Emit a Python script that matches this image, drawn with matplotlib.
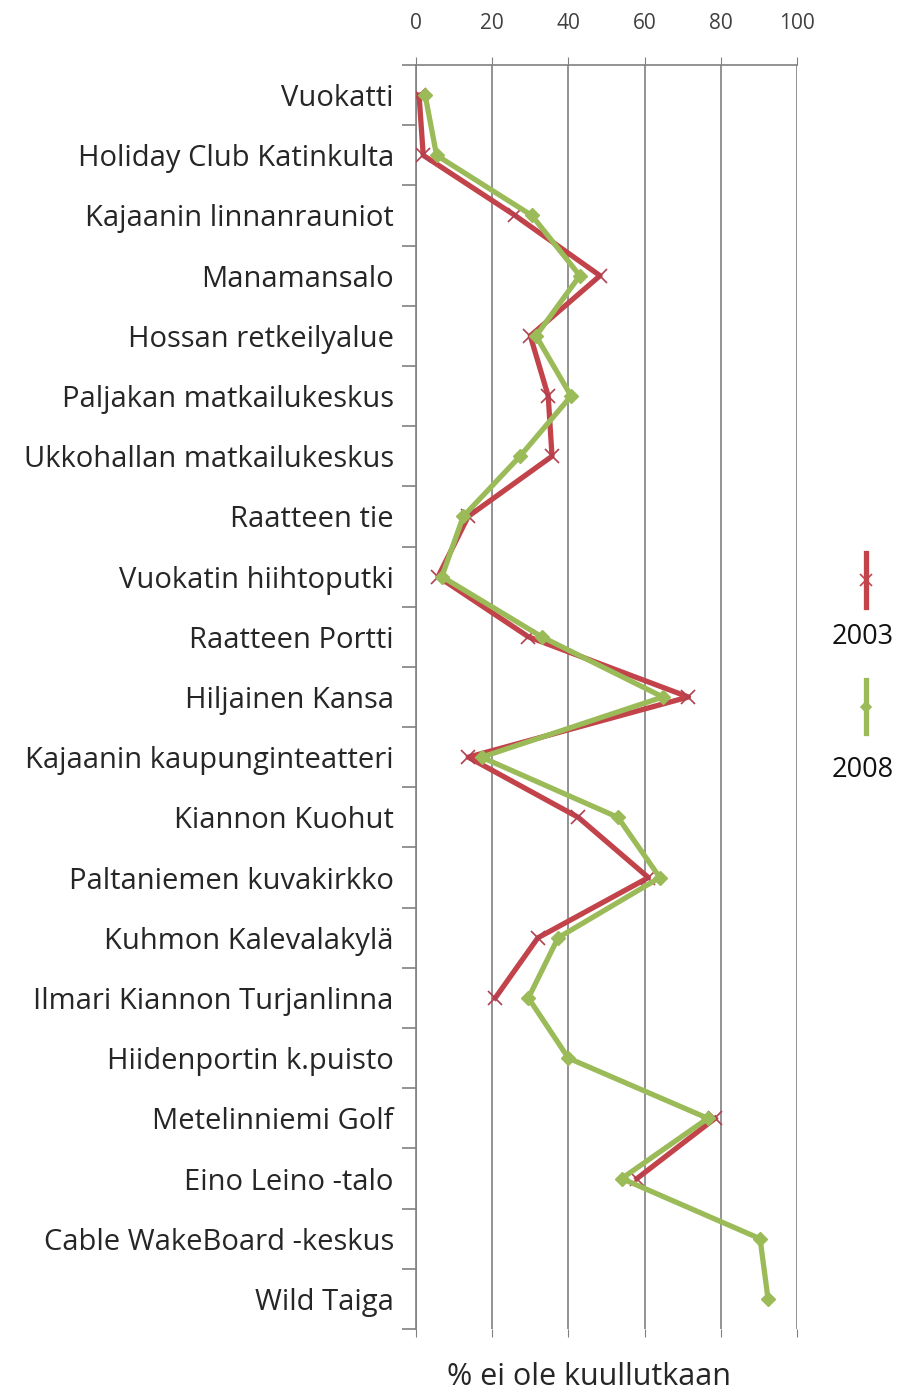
import numpy as np
import matplotlib
matplotlib.use("Agg")
import matplotlib.pyplot as plt
from matplotlib.lines import Line2D

plt.rcParams['font.family'] = ['Open Sans', 'DejaVu Sans']

# kohteet ylhäältä alas
places = [
    "Vuokatti", "Holiday Club Katinkulta", "Kajaanin linnanrauniot",
    "Manamansalo", "Hossan retkeilyalue", "Paljakan matkailukeskus",
    "Ukkohallan matkailukeskus", "Raatteen tie", "Vuokatin hiihtoputki",
    "Raatteen Portti", "Hiljainen Kansa", "Kajaanin kaupunginteatteri",
    "Kiannon Kuohut", "Paltaniemen kuvakirkko", "Kuhmon Kalevalakylä",
    "Ilmari Kiannon Turjanlinna", "Hiidenportin k.puisto",
    "Metelinniemi Golf", "Eino Leino -talo", "Cable WakeBoard -keskus",
    "Wild Taiga",
]

# % ei ole kuullutkaan (nan = ei kysytty)
v2003 = [0.8, 1.9, 26, 48.3, 30, 34.7, 35.7, 13.7, 5.8, 29.5, 71.5, 13.7,
         42.6, 61, 32, 20.8, np.nan, 78.5, 58, np.nan, np.nan]
v2008 = [2.4, 5.4, 30.4, 43, 31.5, 40.7, 27.3, 12.4, 6.8, 33, 64.8, 17.2,
         53, 64, 37.3, 29.5, 40, 76.6, 54, 90.3, 92.4]

red = "#C3434B"
green = "#9BBB59"

fig = plt.figure(figsize=(8.97, 13.90), dpi=100)
ax = fig.add_axes([416 / 897, 1 - 1329 / 1390, (797 - 416) / 897, (1329 - 65) / 1390])

y = np.arange(len(places))
ax.plot(v2003, y, color=red, lw=3.8, marker="x", ms=10, mew=1.2,
        mec="#B04050", zorder=3)
ax.plot(v2008, y, color=green, lw=3.8, marker="D", ms=7, mec=green, zorder=4)

ax.set_xlim(0, 100)
ax.set_ylim(len(places) - 0.5, -0.5)
ax.set_xticks([0, 20, 40, 60, 80, 100])
ax.xaxis.set_ticks_position("both")
ax.tick_params(axis="x", top=True, labeltop=True, bottom=True, labelbottom=False,
               length=6, color="#808080", labelsize=15, labelcolor="#404040", pad=16)
ax.grid(axis="x", color="#808080", lw=1.2)
ax.set_axisbelow(True)

ax.set_yticks(y)
ax.set_yticklabels(places, fontsize=21, color="#262626")
ax.set_yticks(np.arange(len(places) + 1) - 0.5, minor=True)
ax.tick_params(axis="y", which="major", length=0, pad=16)
ax.tick_params(axis="y", which="minor", length=10, color="#808080", width=1.2)

for s in ["right", "bottom"]:
    ax.spines[s].set_visible(False)
for s in ["left", "top"]:
    ax.spines[s].set_color("#808080")
    ax.spines[s].set_linewidth(1.2)

fig.text(589 / 897, 1 - 1377 / 1390, "% ei ole kuullutkaan", ha="center",
         va="center", fontsize=22, color="#262626")

# legend: pystysuorat näytteet
for (y0, y1, ty, col, mk, lab) in [(553, 607, 637, red, "x", "2003"),
                                    (680, 733, 770, green, "D", "2008")]:
    fig.add_artist(Line2D([866 / 897] * 2, [1 - y0 / 1390, 1 - y1 / 1390],
                          color=col, lw=3.8, transform=fig.transFigure))
    fig.add_artist(Line2D([866 / 897], [1 - (y0 + y1) / 2 / 1390], color=col,
                          marker=mk, ms=8 if mk == "x" else 5, mew=1.2,
                          transform=fig.transFigure))
    fig.text(863 / 897, 1 - ty / 1390, lab, ha="center", va="center",
             fontsize=19.5, color="#111111")

fig.savefig("out.png", dpi=100)
